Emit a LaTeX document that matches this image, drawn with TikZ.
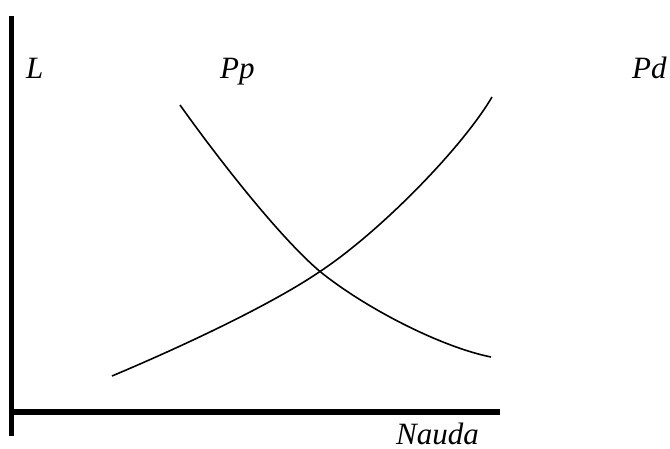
\documentclass[tikz,border=0pt]{standalone}
\usepackage{fontspec}
\setmainfont{Liberation Serif}
\begin{document}
\begin{tikzpicture}[x=1pt,y=-1pt,
  axis/.style={line width=5.5pt},
  curve/.style={line width=1.6pt},
  lbl/.style={anchor=base west,inner sep=0pt,text depth=0pt,font=\fontsize{31}{36}\selectfont\itshape}]
\useasboundingbox (0,0) rectangle (670,449);
\coordinate (ytop) at (11.5,16);
\coordinate (ybot) at (11.5,436);
\coordinate (xl) at (9,412);
\coordinate (xr) at (500,412);
\coordinate (d0) at (180,105);
\coordinate (cx) at (320,271.5);
\coordinate (d1) at (491,357);
\coordinate (s0) at (112,376);
\coordinate (s1) at (492,97);
\draw[axis] (ytop) -- (ybot);
\draw[axis] (xl) -- (xr);
\draw[curve] (d0) .. controls (222,164) and (282,239.5) .. (cx)
                  .. controls (365,308) and (441,347) .. (d1);
\draw[curve] (s0) .. controls (180,347.4) and (270,305.5) .. (cx)
                  .. controls (380,231.8) and (462,148) .. (s1);
\node[lbl] (L) at (26,79) {L};
\node[lbl] (Pp) at (220,79) {Pp};
\node[lbl] (Pd) at (632,79) {Pd};
\node[lbl] (N) at (396,444) {Nauda};
\end{tikzpicture}
\end{document}
